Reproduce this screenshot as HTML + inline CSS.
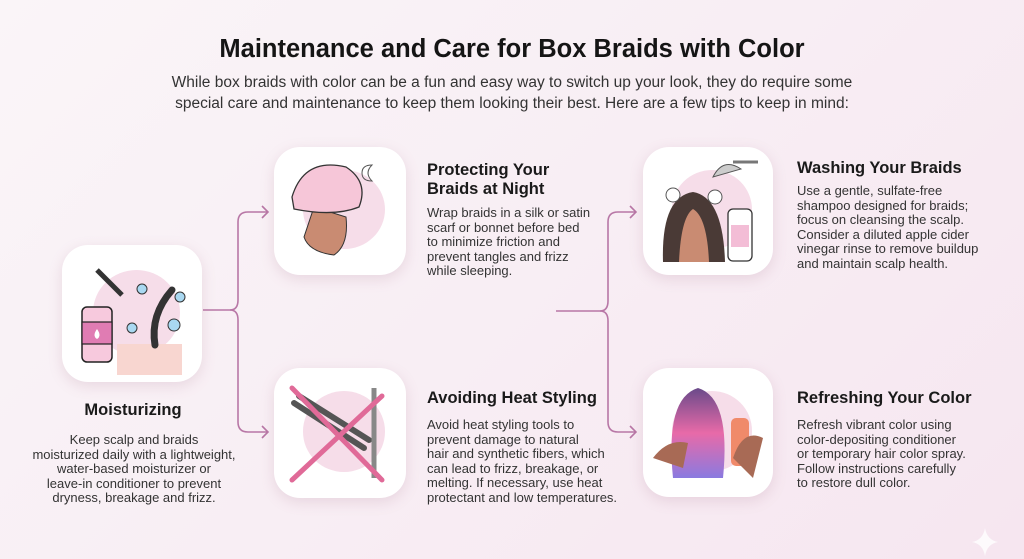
<!DOCTYPE html>
<html><head><meta charset="utf-8"><style>
body{margin:0;width:1024px;height:559px;overflow:hidden;font-family:"Liberation Sans",sans-serif;color:#222;
background:linear-gradient(135deg,#faf5f8 0%,#f8eef4 50%,#f6e6f0 100%);position:relative}
.a{position:absolute}
h1{position:absolute;left:0;width:1024px;top:35px;margin:0;text-align:center;font-size:25.5px;font-weight:bold;color:#151515}
.sub{left:0;width:1024px;top:72px;text-align:center;font-size:15.5px;line-height:21px;color:#333}
.card{position:absolute;background:#fff;border-radius:26px;box-shadow:0 4px 14px rgba(160,100,130,.18);overflow:hidden}
.card .c{position:absolute;left:22%;top:18%;width:62%;height:62%;border-radius:50%;background:#f6dde9}
.t{font-size:16.5px;font-weight:bold;color:#1a1a1a;line-height:19px}
.p{font-size:13px;line-height:14.6px;color:#333}
</style></head><body>
<h1>Maintenance and Care for Box Braids with Color</h1>
<div class="a sub">While box braids with color can be a fun and easy way to switch up your look, they do require some<br>special care and maintenance to keep them looking their best. Here are a few tips to keep in mind:</div>

<svg class="a" style="left:0;top:0" width="1024" height="559">
<g fill="none" stroke="#b877a6" stroke-width="1.6">
<path d="M203 310 H230 Q238 310 238 300 V222 Q238 212 248 212 H268"/>
<path d="M230 310 Q238 310 238 320 V422 Q238 432 248 432 H268"/>
<path d="M262 206 L268 212 L262 218 M262 426 L268 432 L262 438"/>
<path d="M556 311 H600 Q608 311 608 301 V222 Q608 212 618 212 H636"/>
<path d="M600 311 Q608 311 608 321 V422 Q608 432 618 432 H636"/>
<path d="M630 206 L636 212 L630 218 M630 426 L636 432 L630 438"/>
</g>
<path d="M985 528 Q987 540 998 542 Q987 544 985 556 Q983 544 972 542 Q983 540 985 528Z" fill="#fff" opacity=".8"/>
</svg>

<div class="card" style="left:62px;top:245px;width:140px;height:137px"><div class="c"></div>
<svg class="a" style="left:0;top:0" width="140" height="137">
<rect x="20" y="62" width="30" height="55" rx="5" fill="#f7c9dd" stroke="#222" stroke-width="1.5"/>
<rect x="20" y="77" width="30" height="22" fill="#e07cb3" stroke="#222" stroke-width="1.2"/>
<path d="M35 84 q5 7 0 10 q-5 -3 0 -10z" fill="#fff"/>
<path d="M55 99 H120 V130 H55Z" fill="#f8d6d0"/>
<path d="M93 100 Q88 70 110 45" stroke="#333" stroke-width="7" fill="none" stroke-linecap="round"/>
<path d="M35 25 L60 50" stroke="#333" stroke-width="5"/>
<circle cx="80" cy="44" r="5" fill="#a9d8f1" stroke="#333"/><circle cx="118" cy="52" r="5" fill="#a9d8f1" stroke="#333"/>
<circle cx="112" cy="80" r="6" fill="#a9d8f1" stroke="#333"/><circle cx="70" cy="83" r="5" fill="#a9d8f1" stroke="#333"/>
</svg></div>
<div class="a t" style="left:62px;width:142px;top:401px;text-align:center">Moisturizing</div>
<div class="a p" style="left:18px;width:232px;top:433px;text-align:center">Keep scalp and braids<br>moisturized daily with a lightweight,<br>water-based moisturizer or<br>leave-in conditioner to prevent<br>dryness, breakage and frizz.</div>

<div class="card" style="left:274px;top:147px;width:132px;height:128px"><div class="c"></div>
<svg class="a" style="left:0;top:0" width="132" height="128">
<path d="M30 90 Q35 105 60 108 Q75 98 72 70 L40 60Z" fill="#c98b72" stroke="#333"/>
<path d="M18 50 Q30 10 72 20 Q95 35 85 60 Q60 70 20 62Z" fill="#f6c6d8" stroke="#333" stroke-width="1.3"/>
<path d="M98 18 q-8 8 0 16 q-10 0 -10 -8 q0 -8 10 -8z" fill="none" stroke="#555"/>
</svg></div>
<div class="a t" style="left:427px;top:161px">Protecting Your<br>Braids at Night</div>
<div class="a p" style="left:427px;top:206px">Wrap braids in a silk or satin<br>scarf or bonnet before bed<br>to minimize friction and<br>prevent tangles and frizz<br>while sleeping.</div>

<div class="card" style="left:274px;top:368px;width:132px;height:130px"><div class="c"></div>
<svg class="a" style="left:0;top:0" width="132" height="130">
<path d="M20 35 L90 80 M25 28 L95 72" stroke="#555" stroke-width="6" stroke-linecap="round"/>
<path d="M100 20 V110" stroke="#888" stroke-width="5"/>
<path d="M18 20 L108 112 M18 112 L108 28" stroke="#e06a98" stroke-width="5" stroke-linecap="round"/>
</svg></div>
<div class="a t" style="left:427px;top:389px">Avoiding Heat Styling</div>
<div class="a p" style="left:427px;top:418px">Avoid heat styling tools to<br>prevent damage to natural<br>hair and synthetic fibers, which<br>can lead to frizz, breakage, or<br>melting. If necessary, use heat<br>protectant and low temperatures.</div>

<div class="card" style="left:643px;top:147px;width:130px;height:128px"><div class="c"></div>
<svg class="a" style="left:0;top:0" width="130" height="128">
<path d="M20 115 Q18 50 50 45 Q80 50 82 115Z" fill="#4a3a36"/>
<path d="M36 115 Q38 70 50 62 Q64 70 66 115Z" fill="#c98b72"/>
<path d="M90 15 H115" stroke="#777" stroke-width="3"/>
<path d="M70 30 Q80 10 98 22Z" fill="#ccc" stroke="#555"/>
<rect x="85" y="62" width="24" height="52" rx="5" fill="#fff" stroke="#333" stroke-width="1.3"/>
<rect x="88" y="78" width="18" height="22" fill="#f3bdd6"/>
<circle cx="30" cy="48" r="7" fill="#fff" stroke="#555"/><circle cx="72" cy="50" r="7" fill="#fff" stroke="#555"/>
</svg></div>
<div class="a t" style="left:797px;top:159px">Washing Your Braids</div>
<div class="a p" style="left:797px;top:184px">Use a gentle, sulfate-free<br>shampoo designed for braids;<br>focus on cleansing the scalp.<br>Consider a diluted apple cider<br>vinegar rinse to remove buildup<br>and maintain scalp health.</div>

<div class="card" style="left:643px;top:368px;width:130px;height:129px"><div class="c"></div>
<svg class="a" style="left:0;top:0" width="130" height="129">
<defs><linearGradient id="g" x1="0" x2="0" y1="0" y2="1"><stop offset="0" stop-color="#6a4a8a"/><stop offset=".5" stop-color="#e86aa8"/><stop offset="1" stop-color="#8a7ae0"/></linearGradient></defs>
<path d="M30 110 Q22 30 55 20 Q88 30 80 110Z" fill="url(#g)"/>
<rect x="88" y="50" width="18" height="48" rx="5" fill="#f08a6a"/>
<path d="M10 90 Q25 70 45 75 L40 100Z M120 70 Q100 60 90 90 L110 110Z" fill="#a86a55"/>
</svg></div>
<div class="a t" style="left:797px;top:389px">Refreshing Your Color</div>
<div class="a p" style="left:797px;top:418px">Refresh vibrant color using<br>color-depositing conditioner<br>or temporary hair color spray.<br>Follow instructions carefully<br>to restore dull color.</div>
</body></html>
